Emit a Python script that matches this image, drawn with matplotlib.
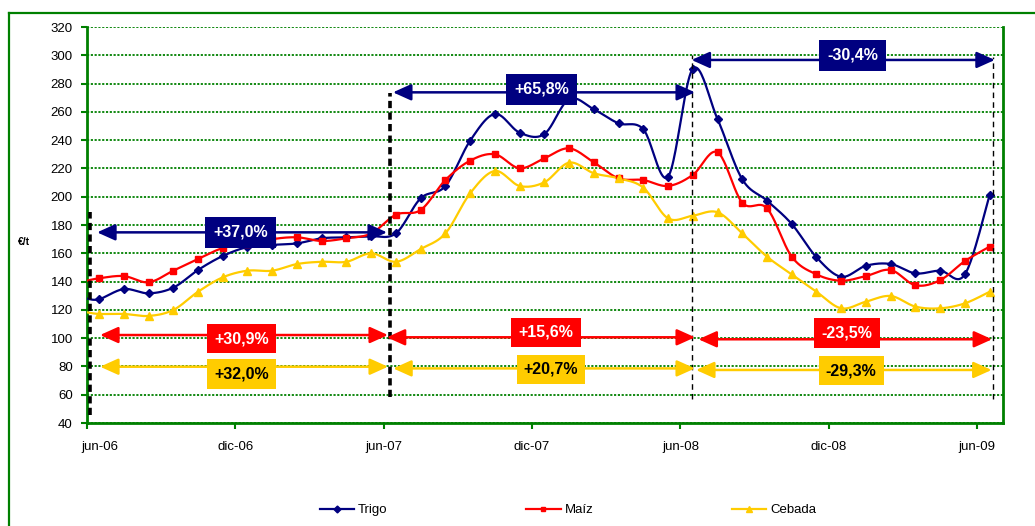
import numpy as np
import matplotlib
matplotlib.use("Agg")
import matplotlib.pyplot as plt
from matplotlib.lines import Line2D
import matplotlib.transforms as mtrans

plt.rcParams['font.family'] = ['Liberation Sans', 'DejaVu Sans']

# ---- data (month offsets from jun-06; first point = start of jun-06, then mid-month) ----
meses = np.concatenate([[0.0], np.arange(37) + 0.5])
tick_pos = [0, 6, 12, 18, 24, 30, 36]
tick_labels = ['jun-06', 'dic-06', 'jun-07', 'dic-07', 'jun-08', 'dic-08', 'jun-09']

trigo = [128, 127.5, 134.7, 131.7, 135.7, 148.2, 158.1, 164.4, 166.0, 167.0, 170.6, 171.3, 172.0,
         174.1, 198.9, 207.6, 239.6, 258.5, 245.3, 244.3, 269.0, 261.8, 251.9, 247.7, 214.2,
         290.4, 254.9, 212.3, 197.2, 180.7, 157.2, 143.4, 151.2, 152.4, 145.8, 147.7, 145.1, 201.2]
maiz = [140.6, 142.3, 143.9, 139.5, 147.7, 156.0, 163.7, 166.5, 170.0, 171.3, 168.7, 170.6, 174.0,
        187.3, 190.6, 211.8, 225.5, 230.0, 220.1, 227.2, 234.2, 224.3, 213.0, 211.8, 207.6,
        215.4, 231.4, 195.8, 191.8, 157.6, 145.1, 140.6, 143.9, 148.2, 137.4, 141.0, 154.5, 164.7]
cebada = [118.3, 117.1, 117.1, 115.7, 119.9, 132.8, 143.0, 147.7, 147.7, 152.4, 154.0, 154.0, 160.0,
          154.0, 163.0, 174.1, 202.4, 218.2, 207.6, 210.2, 224.1, 216.6, 213.0, 206.4, 184.7,
          186.6, 189.0, 174.1, 157.6, 145.1, 132.8, 121.1, 125.8, 129.8, 122.3, 121.1, 124.6, 132.8]

# variation labels per period
lab_trigo = ['+37,0%', '+65,8%', '-30,4%']
lab_maiz = ['+30,9%', '+15,6%', '-23,5%']
lab_cebada = ['+32,0%', '+20,7%', '-29,3%']

NAVY = '#000080'
RED = '#FF0000'
GOLD = '#FFCC00'
GREEN = '#008000'


def smooth(x, y, n=24):
    pts = np.column_stack([x, y]).astype(float)
    P = np.vstack([pts[0], pts, pts[-1]])
    out = []
    t = np.linspace(0, 1, n)[:, None]
    for i in range(len(pts) - 1):
        p0 = P[i + 1]
        p3 = P[i + 2]
        c1 = p0 + (P[i + 2] - P[i]) / 6.0
        c2 = p3 - (P[i + 3] - P[i + 1]) / 6.0
        seg = (1 - t) ** 3 * p0 + 3 * (1 - t) ** 2 * t * c1 + 3 * (1 - t) * t ** 2 * c2 + t ** 3 * p3
        out.append(seg if i == 0 else seg[1:])
    s = np.vstack(out)
    return s[:, 0], s[:, 1]


fig = plt.figure(figsize=(10.35, 5.26), dpi=100)
ax = fig.add_axes([86.7 / 1035, 1 - 423 / 526, (1003 - 86.7) / 1035, (423 - 27) / 526])

# outer frame (left & top)
fig.add_artist(Line2D([9 / 1035, 9 / 1035], [0, 1 - 13 / 526], transform=fig.transFigure,
                      color=GREEN, lw=1.6))
fig.add_artist(Line2D([9 / 1035, 1], [1 - 13 / 526, 1 - 13 / 526], transform=fig.transFigure,
                      color=GREEN, lw=1.6))

series = [(trigo, NAVY, 'D', 4.5, 'Trigo'),
          (maiz, RED, 's', 4.5, 'Maíz'),
          (cebada, GOLD, '^', 6, 'Cebada')]
handles = []
for vals, col, mk, ms, name in series:
    sx, sy = smooth(meses, vals)
    ax.plot(sx, sy, color=col, lw=1.6, zorder=3)
    ax.plot(meses[1:], vals[1:], ls='none', marker=mk, ms=ms, color=col, zorder=4)
    handles.append(Line2D([], [], color=col, lw=1.6, marker=mk, ms=ms - 1, label=name))

ax.set_xlim(0, 37.04)
ax.set_ylim(40, 320)
ax.set_yticks(np.arange(40, 321, 20))
ax.set_xticks(tick_pos)
ax.set_xticklabels(tick_labels)

ax.grid(axis='y', color=GREEN, ls=(0, (1.2, 0.9)), lw=1.3)
ax.set_axisbelow(True)
for s in ['left', 'bottom', 'right']:
    ax.spines[s].set_color(GREEN)
    ax.spines[s].set_linewidth(2)
ax.spines['top'].set_visible(False)
ax.tick_params(axis='both', colors=GREEN, labelcolor='black', labelsize=9.5, length=4, width=1.5)
ax.tick_params(axis='y', pad=6)
ax.tick_params(axis='x', pad=9)
# first x label is shifted right in the original
lbl0 = ax.get_xticklabels()[0]
lbl0.set_transform(lbl0.get_transform() + mtrans.ScaledTranslation(13 / 100, 0, fig.dpi_scale_trans))

fig.text(24 / 1035, 1 - 242 / 526, '€/t', fontsize=7.5, fontweight='bold', ha='center', va='center')

# vertical dashed period markers
ax.plot([0.13, 0.13], [45.6, 189.4], color='black', lw=2.6, ls=(0, (2.0, 1.2)), zorder=5)
ax.plot([12.28, 12.28], [58.6, 273.3], color='black', lw=2.6, ls=(0, (2.0, 1.2)), zorder=5)
ax.plot([24.45, 24.45], [57, 300], color='black', lw=1.0, ls=(0, (4, 3)), zorder=5)
ax.plot([36.64, 36.64], [57, 299], color='black', lw=1.0, ls=(0, (4, 3)), zorder=5)


def darrow(x0, x1, y, col):
    ax.annotate('', xy=(x1, y), xytext=(x0, y),
                arrowprops=dict(arrowstyle='<|-|>,head_length=1.0,head_width=0.45',
                                color=col, lw=1.8, shrinkA=0, shrinkB=0, mutation_scale=11),
                zorder=6)


def box(x, y, txt, col, tcol, padx=0.45):
    ax.text(x, y, txt, ha='center', va='center', color=tcol, fontsize=11.5, fontweight='bold',
            zorder=7, bbox=dict(boxstyle='square,pad=%s' % padx, fc=col, ec='none'))


arrows_trigo = [(0.42, 12.14, 174.8), (12.38, 24.59, 273.8), (24.45, 36.71, 296.7)]
boxes_trigo = [(6.22, 174.7), (18.38, 276.0), (30.95, 300.0)]
arrows_maiz = [(0.54, 12.18, 102.2), (12.13, 24.59, 100.6), (24.73, 36.60, 99.2)]
boxes_maiz = [(6.26, 99.6), (18.57, 104.0), (30.73, 103.6)]
arrows_ceb = [(0.54, 12.18, 79.8), (12.39, 24.59, 78.6), (24.63, 36.58, 77.5)]
boxes_ceb = [(6.27, 74.6), (18.77, 78.0), (30.90, 77.1)]

for (a, b, y), (bx, by), t in zip(arrows_trigo, boxes_trigo, lab_trigo):
    darrow(a, b, y, NAVY)
    box(bx, by, t, NAVY, 'white', 0.5)
for (a, b, y), (bx, by), t in zip(arrows_maiz, boxes_maiz, lab_maiz):
    darrow(a, b, y, RED)
    box(bx, by, t, RED, 'white', 0.45)
for (a, b, y), (bx, by), t in zip(arrows_ceb, boxes_ceb, lab_cebada):
    darrow(a, b, y, GOLD)
    box(bx, by, t, GOLD, 'black', 0.45)

fig.legend(handles=handles, loc='center', bbox_to_anchor=(568 / 1035, 1 - 510 / 526), ncol=3,
           frameon=False, fontsize=9.5, handlelength=2.6, columnspacing=10.5, handletextpad=0.3)

fig.savefig('out.png', dpi=100)
